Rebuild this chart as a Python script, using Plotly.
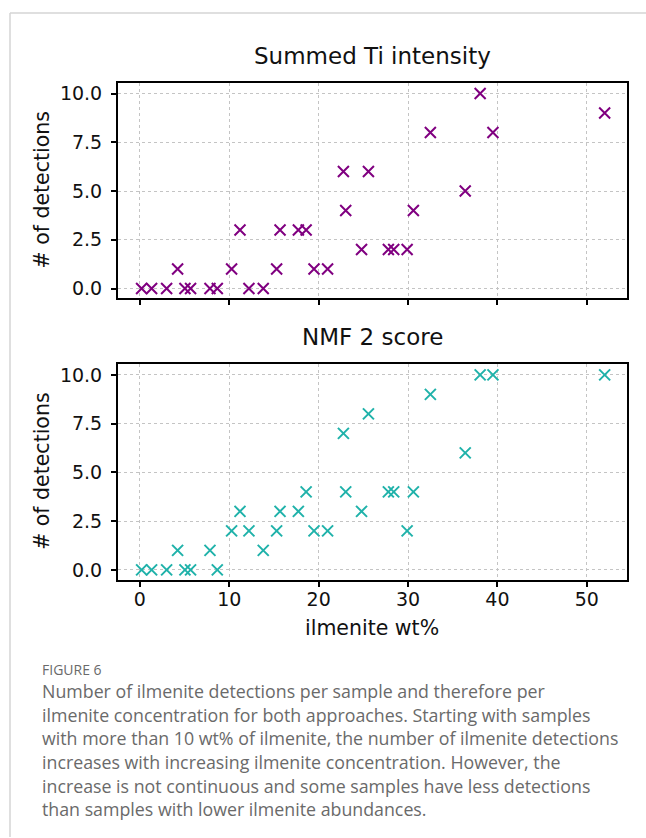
import plotly.graph_objects as go

W, H = 646, 838

# Data
ilmenite_wt = [0.19, 1.31, 2.99, 4.22, 5.04, 5.67, 7.84, 8.66, 10.26, 11.2, 12.2, 13.8,
               15.3, 15.68, 17.73, 18.6, 19.48, 21.0, 22.77, 23.03, 24.8, 25.57, 27.8,
               28.4, 29.9, 30.6, 32.5, 36.4, 38.07, 39.5, 52.0]
ti_detections = [0, 0, 0, 1, 0, 0, 0, 0, 1, 3, 0, 0,
                 1, 3, 3, 3, 1, 1, 6, 4, 2, 6, 2,
                 2, 2, 4, 8, 5, 10, 8, 9]
nmf_detections = [0, 0, 0, 1, 0, 0, 1, 0, 2, 3, 2, 1,
                  2, 3, 3, 4, 2, 2, 7, 4, 3, 8, 4,
                  4, 2, 4, 9, 6, 10, 10, 10]
panel_titles = ["Summed Ti intensity", "NMF 2 score"]
y_ticks = [0, 2.5, 5, 7.5, 10]
x_ticks = [0, 10, 20, 30, 40, 50]
caption_head = "FIGURE 6"
caption_lines = [
    "Number of ilmenite detections per sample and therefore per",
    "ilmenite concentration for both approaches. Starting with samples",
    "with more than 10 wt% of ilmenite, the number of ilmenite detections",
    "increases with increasing ilmenite concentration. However, the",
    "increase is not continuous and some samples have less detections",
    "than samples with lower ilmenite abundances.",
]

def px_x(p):
    return p / W

def px_y(p):
    return 1 - p / H

fig = go.Figure()

fig.add_trace(go.Scatter(
    x=ilmenite_wt, y=ti_detections, mode="markers", xaxis="x", yaxis="y",
    marker=dict(symbol="x-thin", size=11, color="#800080",
                line=dict(color="#800080", width=2)),
    showlegend=False))
fig.add_trace(go.Scatter(
    x=ilmenite_wt, y=nmf_detections, mode="markers", xaxis="x2", yaxis="y2",
    marker=dict(symbol="x-thin", size=11, color="#20b2aa",
                line=dict(color="#20b2aa", width=2)),
    showlegend=False))

xdom = [px_x(118), px_x(627)]
ax_common = dict(showline=True, linecolor="black", linewidth=2, mirror=True,
                 ticks="outside", ticklen=5, tickwidth=1.5, tickcolor="black",
                 showgrid=True, gridcolor="#c4c4c4", gridwidth=1, griddash="dot",
                 zeroline=False, tickfont=dict(family="DejaVu Sans", size=19, color="#111"))

xr = [-2.45, 54.5]
yr = [-0.5, 10.55]

fig.update_layout(
    width=W, height=H, margin=dict(l=0, r=0, t=0, b=0),
    paper_bgcolor="white", plot_bgcolor="white",
    xaxis=dict(domain=xdom, anchor="y", range=xr, tickvals=x_ticks, showticklabels=False, **ax_common),
    yaxis=dict(domain=[px_y(298), px_y(82)], anchor="x", range=yr, tickvals=y_ticks,
               tickformat=".1f", ticklabelstandoff=5, **ax_common),
    xaxis2=dict(domain=xdom, anchor="y2", range=xr, tickvals=x_ticks, ticklabelstandoff=-3, **ax_common),
    yaxis2=dict(domain=[px_y(580), px_y(364)], anchor="x2", range=yr, tickvals=y_ticks,
                tickformat=".1f", ticklabelstandoff=5, **ax_common),
)

ann = []
# panel titles
for t, yc in zip(panel_titles, [55, 337]):
    ann.append(dict(text=t, x=px_x(372), y=px_y(yc), xref="paper", yref="paper",
                    xanchor="center", yanchor="middle", showarrow=False,
                    font=dict(family="DejaVu Sans", size=23, color="#111")))
# y-axis titles
for yc in [190, 472]:
    ann.append(dict(text="# of detections", x=px_x(42), y=px_y(yc), xref="paper", yref="paper",
                    xanchor="center", yanchor="middle", showarrow=False, textangle=-90,
                    font=dict(family="DejaVu Sans", size=20.5, color="#111")))
# x-axis title
ann.append(dict(text="ilmenite wt%", x=px_x(372), y=px_y(629), xref="paper", yref="paper",
                xanchor="center", yanchor="middle", showarrow=False,
                font=dict(family="DejaVu Sans", size=20.5, color="#111")))
# caption
ann.append(dict(text=caption_head, x=px_x(40), y=px_y(670), xref="paper", yref="paper",
                xanchor="left", yanchor="middle", showarrow=False,
                font=dict(family="Open Sans", size=14, color="#6a6a6a")))
for i, line in enumerate(caption_lines):
    ann.append(dict(text=line, x=px_x(40), y=px_y(692 + 23.6 * i), xref="paper", yref="paper",
                    xanchor="left", yanchor="middle", showarrow=False,
                    font=dict(family="Open Sans", size=17.8, color="#6a6a6a")))
fig.update_layout(annotations=ann)

# light frame lines
fig.add_shape(type="line", xref="paper", yref="paper", x0=px_x(10), x1=1, y0=px_y(12), y1=px_y(12),
              line=dict(color="#d4d4d4", width=1.5))
fig.add_shape(type="line", xref="paper", yref="paper", x0=px_x(10), x1=px_x(10), y0=px_y(12), y1=0,
              line=dict(color="#d4d4d4", width=1.5))

fig.write_html("out.html")
